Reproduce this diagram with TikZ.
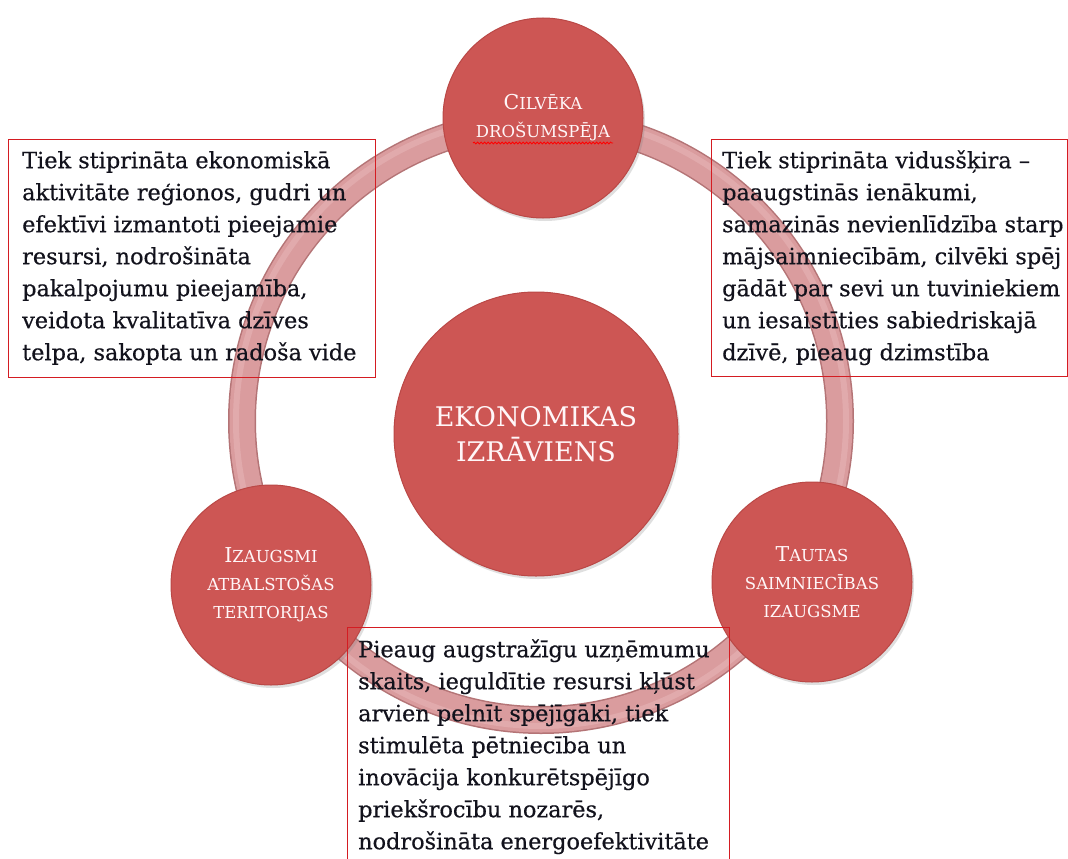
\documentclass[tikz,border=0pt]{standalone}
\usepackage{fontspec}
\setmainfont{DejaVu Serif}
\newfontfamily\bodyfont[FakeBold=0.5]{DejaVu Serif}
\usetikzlibrary{shadows,decorations.pathmorphing}
\definecolor{circred}{RGB}{205,86,84}
\definecolor{circedge}{RGB}{186,72,70}
\definecolor{ringpink}{RGB}{218,156,158}
\definecolor{ringdark}{RGB}{180,116,118}
\definecolor{ringlight}{RGB}{232,184,186}
\definecolor{boxred}{RGB}{212,28,34}
\definecolor{labelwhite}{RGB}{255,246,248}
\definecolor{inkblack}{RGB}{18,18,28}
\newcommand\capL[1]{{\fontsize{20.5}{28}\selectfont #1}}
\begin{document}
\begin{tikzpicture}[x=1pt,y=-1pt,
  bubble/.style={circle, fill=circred, draw=circedge, line width=1pt, text=labelwhite, align=center, inner sep=0pt,
    drop shadow={opacity=0.25, shadow xshift=2pt, shadow yshift=-3pt}},
  small/.style={bubble, minimum size=200pt, font=\fontsize{16.5}{28}\selectfont},
  hub/.style={bubble, minimum size=284pt, font=\fontsize{27}{35}\selectfont},
  tbox/.style={draw=boxred, line width=1.4pt, rectangle, inner sep=0pt, anchor=north west},
  body/.style={anchor=north west, align=left, inner sep=0pt, text=inkblack, font=\bodyfont\fontsize{22.4}{32}\selectfont},
  ringedge/.style={ringdark, line width=28pt},
  ringbody/.style={ringpink, line width=25pt},
  ringshine/.style={ringlight, line width=6pt, opacity=0.5},
  spell/.style={red, line width=0.8pt, decorate, decoration={snake, amplitude=1pt, segment length=3.5pt}},
]
\useasboundingbox (0,0) rectangle (1068,859);
\fill[white] (0,0) rectangle (1068,859);
% ring
\coordinate (ringc) at (541,421);
\draw[ringedge] (ringc) circle[radius=299];
\draw[ringbody] (ringc) circle[radius=299];
\draw[ringshine] (ringc) circle[radius=305];
% circles
\node[small] (top) at (543,118) {\capL{C}ILVĒKA\\DROŠUMSPĒJA};
\node[small] (left) at (271,585) {\capL{I}ZAUGSMI\\ATBALSTOŠAS\\TERITORIJAS};
\node[small] (right) at (812,582) {\capL{T}AUTAS\\SAIMNIECĪBAS\\IZAUGSME};
\node[hub] (hub) at (536,434) {EKONOMIKAS\\IZRĀVIENS};
\draw[spell] (473,143) -- (613,143);
% boxes
\node[tbox, minimum width=367pt, minimum height=238pt] (lbox) at (8,139) {};
\node[tbox, minimum width=356pt, minimum height=237pt] (rbox) at (711,139) {};
\node[tbox, minimum width=382pt, minimum height=245pt] (bbox) at (347,627) {};
% texts
\node[body] (ltext) at ([shift={(14,6.6)}]lbox.north west) {\strut Tiek stiprināta ekonomiskā\\aktivitāte reģionos, gudri un\\efektīvi izmantoti pieejamie\\resursi, nodrošināta\\pakalpojumu pieejamība,\\veidota kvalitatīva dzīves\\telpa, sakopta un radoša vide};
\node[body] (rtext) at ([shift={(11,6.6)}]rbox.north west) {\strut Tiek stiprināta vidusšķira –\\paaugstinās ienākumi,\\samazinās nevienlīdzība starp\\mājsaimniecībām, cilvēki spēj\\gādāt par sevi un tuviniekiem\\un iesaistīties sabiedriskajā\\dzīvē, pieaug dzimstība};
\node[body] (btext) at ([shift={(11,7.6)}]bbox.north west) {\strut Pieaug augstražīgu uzņēmumu\\skaits, ieguldītie resursi kļūst\\arvien pelnīt spējīgāki, tiek\\stimulēta pētniecība un\\inovācija konkurētspējīgo\\priekšrocību nozarēs,\\nodrošināta energoefektivitāte};
\end{tikzpicture}
\end{document}
